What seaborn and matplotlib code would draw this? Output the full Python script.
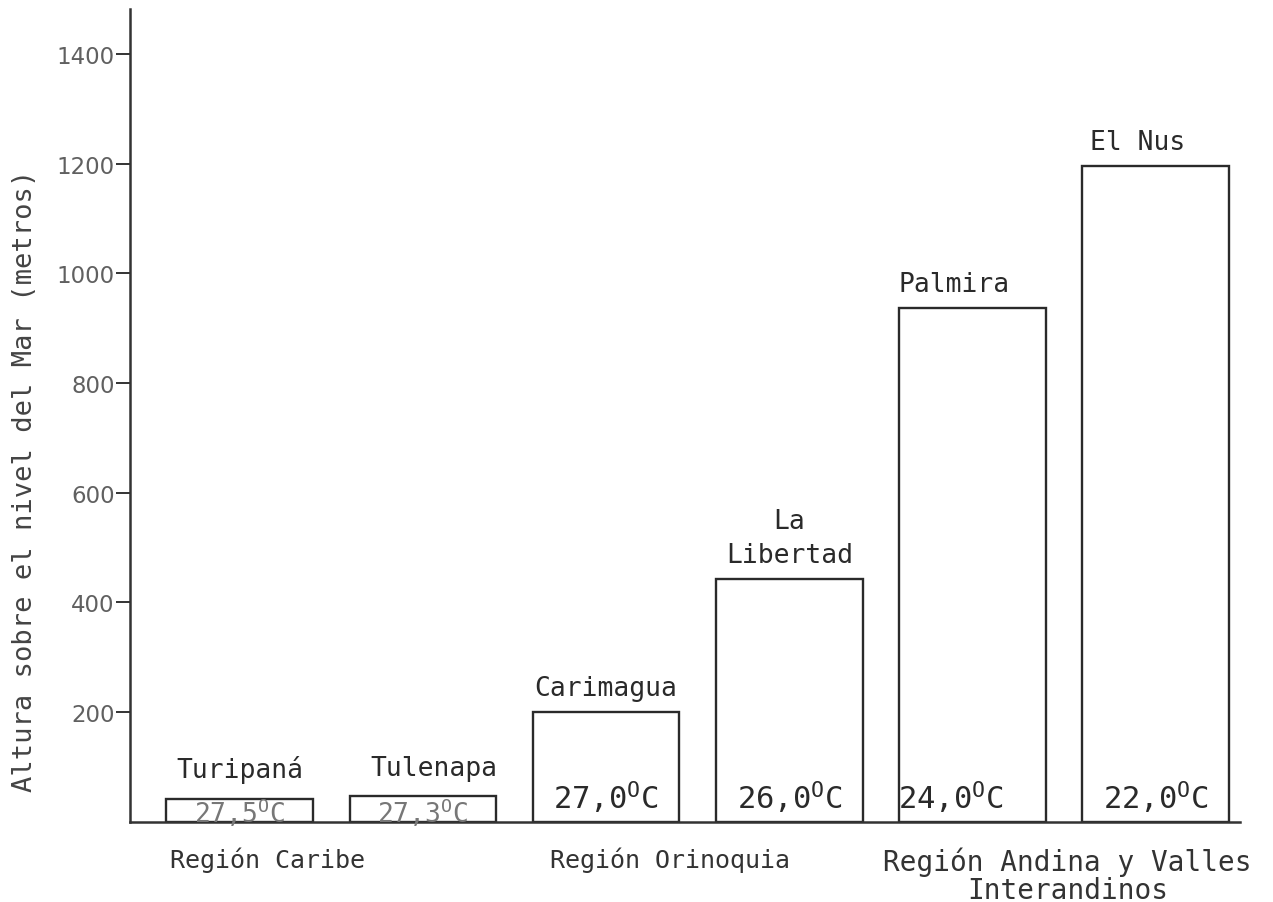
import matplotlib
matplotlib.use("Agg")
import matplotlib.pyplot as plt
import pandas as pd
import seaborn as sns

estaciones = ["Turipaná", "Tulenapa", "Carimagua", "La\nLibertad", "Palmira", "El Nus"]
alturas = [42, 47, 200, 442, 936, 1195]
temperaturas = ["27,5", "27,3", "27,0", "26,0", "24,0", "22,0"]
regiones = ["Región Caribe", "Región Orinoquia", "Región Andina y Valles\nInterandinos"]
yticks = [200, 400, 600, 800, 1000, 1200, 1400]


def main():
    sns.set_style("ticks")
    plt.rcParams["font.family"] = ["DejaVu Sans Mono", "DejaVu Sans"]
    plt.rcParams["mathtext.fontset"] = "custom"
    plt.rcParams["mathtext.rm"] = "DejaVu Sans Mono"

    df = pd.DataFrame({"estacion": estaciones, "altura": alturas})

    fig = plt.figure(figsize=(12.73, 9.03), dpi=100)
    ax = fig.add_axes([0.102, 0.089, 0.872, 0.90])
    sns.barplot(data=df, x="estacion", y="altura", color="white",
                edgecolor="#2a2a2a", linewidth=1.7, width=0.8, ax=ax, saturation=1)

    ax.set_xlim(-0.6, 5.46)
    ax.set_ylim(0, 1482)
    ax.set_xticks([])
    ax.set_xlabel("")
    ax.set_yticks(yticks)
    ax.set_yticklabels([str(v) for v in yticks], family="DejaVu Sans",
                       fontsize=16.5, color="#606060")
    ax.tick_params(axis="y", length=10, width=1.4, color="#333333", pad=1)
    ax.set_ylabel("Altura sobre el nivel del Mar (metros)", fontsize=19.5,
                  color="#444444")
    ax.yaxis.set_label_coords(-0.083, 0.42)
    sns.despine(ax=ax)
    for s in ["left", "bottom"]:
        ax.spines[s].set_linewidth(1.8)
        ax.spines[s].set_color("#333333")

    # nombres de estaciones sobre cada barra
    for i, (nombre, h) in enumerate(zip(estaciones, alturas)):
        off = 20 if h > 100 else 28
        dx = 0
        if nombre in ("Palmira", "El Nus"):
            dx = -0.1
        if nombre == "Tulenapa":
            dx = 0.06
        ax.text(i + dx, h + off, nombre, ha="center", va="bottom",
                fontsize=19, color="#2a2a2a", linespacing=1.4)

    # temperaturas dentro de las barras
    for i, t in enumerate(temperaturas):
        if i < 2:
            ax.text(i, 18, t + r"$^{\rm O}$C", ha="center", va="center",
                    fontsize=19, color="#777777")
        else:
            dx = -0.12 if i == 4 else 0
            ax.text(i + dx, 45, t + r"$^{\rm O}$C", ha="center", va="center",
                    fontsize=22, color="#2a2a2a")

    # regiones bajo el eje
    for xpos, reg, fs in zip([0.15, 2.35, 4.52], regiones, [18, 18, 20]):
        ax.text(xpos, -45, reg, ha="center", va="top", fontsize=fs,
                color="#333333", linespacing=1.0)

    fig.savefig("out.png", dpi=100)


if __name__ == "__main__":
    main()
